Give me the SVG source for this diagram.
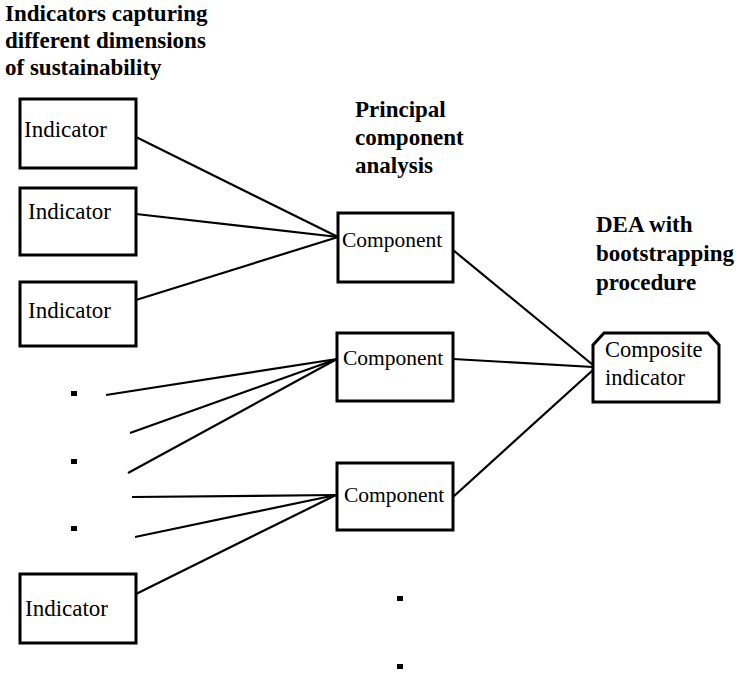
<svg xmlns="http://www.w3.org/2000/svg" width="736" height="675" viewBox="0 0 736 675">
<style>
.box{fill:#fff;stroke:#000;stroke-width:3}
.lbl{font-family:"Liberation Serif","Times New Roman",serif;font-size:23px;fill:#000}
.cmp{font-size:21.5px}
.cps{font-size:22.5px}
.ttl{font-family:"Liberation Serif","Times New Roman",serif;font-size:23px;font-weight:bold;fill:#000}
.ln{stroke:#000;stroke-width:2.2;fill:none}
.dot{fill:#000}
</style>
<rect width="736" height="675" fill="#fff"/>
<g id="titles">
<text class="ttl" x="5" y="21">Indicators capturing</text>
<text class="ttl" x="5" y="48">different dimensions</text>
<text class="ttl" x="5" y="75">of sustainability</text>
<text class="ttl" x="355" y="117">Principal</text>
<text class="ttl" x="355" y="145">component</text>
<text class="ttl" x="355" y="173">analysis</text>
<text class="ttl" x="596" y="232">DEA with</text>
<text class="ttl" x="596" y="261">bootstrapping</text>
<text class="ttl" x="596" y="290">procedure</text>
</g>
<g id="connectors">
<line class="ln" x1="136" y1="137" x2="338" y2="237"/>
<line class="ln" x1="136" y1="214" x2="338" y2="237"/>
<line class="ln" x1="136" y1="300" x2="338" y2="237"/>
<line class="ln" x1="106" y1="395" x2="337" y2="359"/>
<line class="ln" x1="130" y1="433" x2="337" y2="359"/>
<line class="ln" x1="128" y1="473" x2="337" y2="359"/>
<line class="ln" x1="132" y1="497" x2="336" y2="495"/>
<line class="ln" x1="135" y1="537" x2="336" y2="495"/>
<line class="ln" x1="136" y1="594" x2="336" y2="495"/>
<line class="ln" x1="453" y1="250" x2="593" y2="365"/>
<line class="ln" x1="453" y1="359" x2="593" y2="367"/>
<line class="ln" x1="453" y1="497" x2="593" y2="370"/>
</g>
<g id="ind1"><rect class="box" x="20" y="99" width="116" height="69"/><text class="lbl" x="24" y="137">Indicator</text></g>
<g id="ind2"><rect class="box" x="20" y="188" width="116" height="67"/><text class="lbl" x="28" y="219">Indicator</text></g>
<g id="ind3"><rect class="box" x="20" y="282" width="116" height="64"/><text class="lbl" x="28" y="318">Indicator</text></g>
<g id="ind4"><rect class="box" x="20" y="574" width="116" height="69"/><text class="lbl" x="25" y="616">Indicator</text></g>
<g id="comp1"><rect class="box" x="338" y="213" width="115" height="69"/><text class="lbl cmp" x="342" y="247">Component</text></g>
<g id="comp2"><rect class="box" x="337" y="333" width="116" height="68"/><text class="lbl cmp" x="343" y="365">Component</text></g>
<g id="comp3"><rect class="box" x="337" y="463" width="116" height="67"/><text class="lbl cmp" x="344" y="502">Component</text></g>
<g id="composite"><path class="box" d="M593,345 L604,333 L708,333 L719,345 L719,402 L593,402 Z"/><text class="lbl cps" x="605" y="357">Composite</text><text class="lbl cps" x="605" y="385">indicator</text></g>
<g id="dots">
<rect class="dot" x="71" y="391" width="6" height="5"/>
<rect class="dot" x="71" y="459" width="6" height="5"/>
<rect class="dot" x="71" y="526" width="6" height="5"/>
<rect class="dot" x="397" y="596" width="6" height="5"/>
<rect class="dot" x="397" y="664" width="6" height="5"/>
</g>
</svg>
